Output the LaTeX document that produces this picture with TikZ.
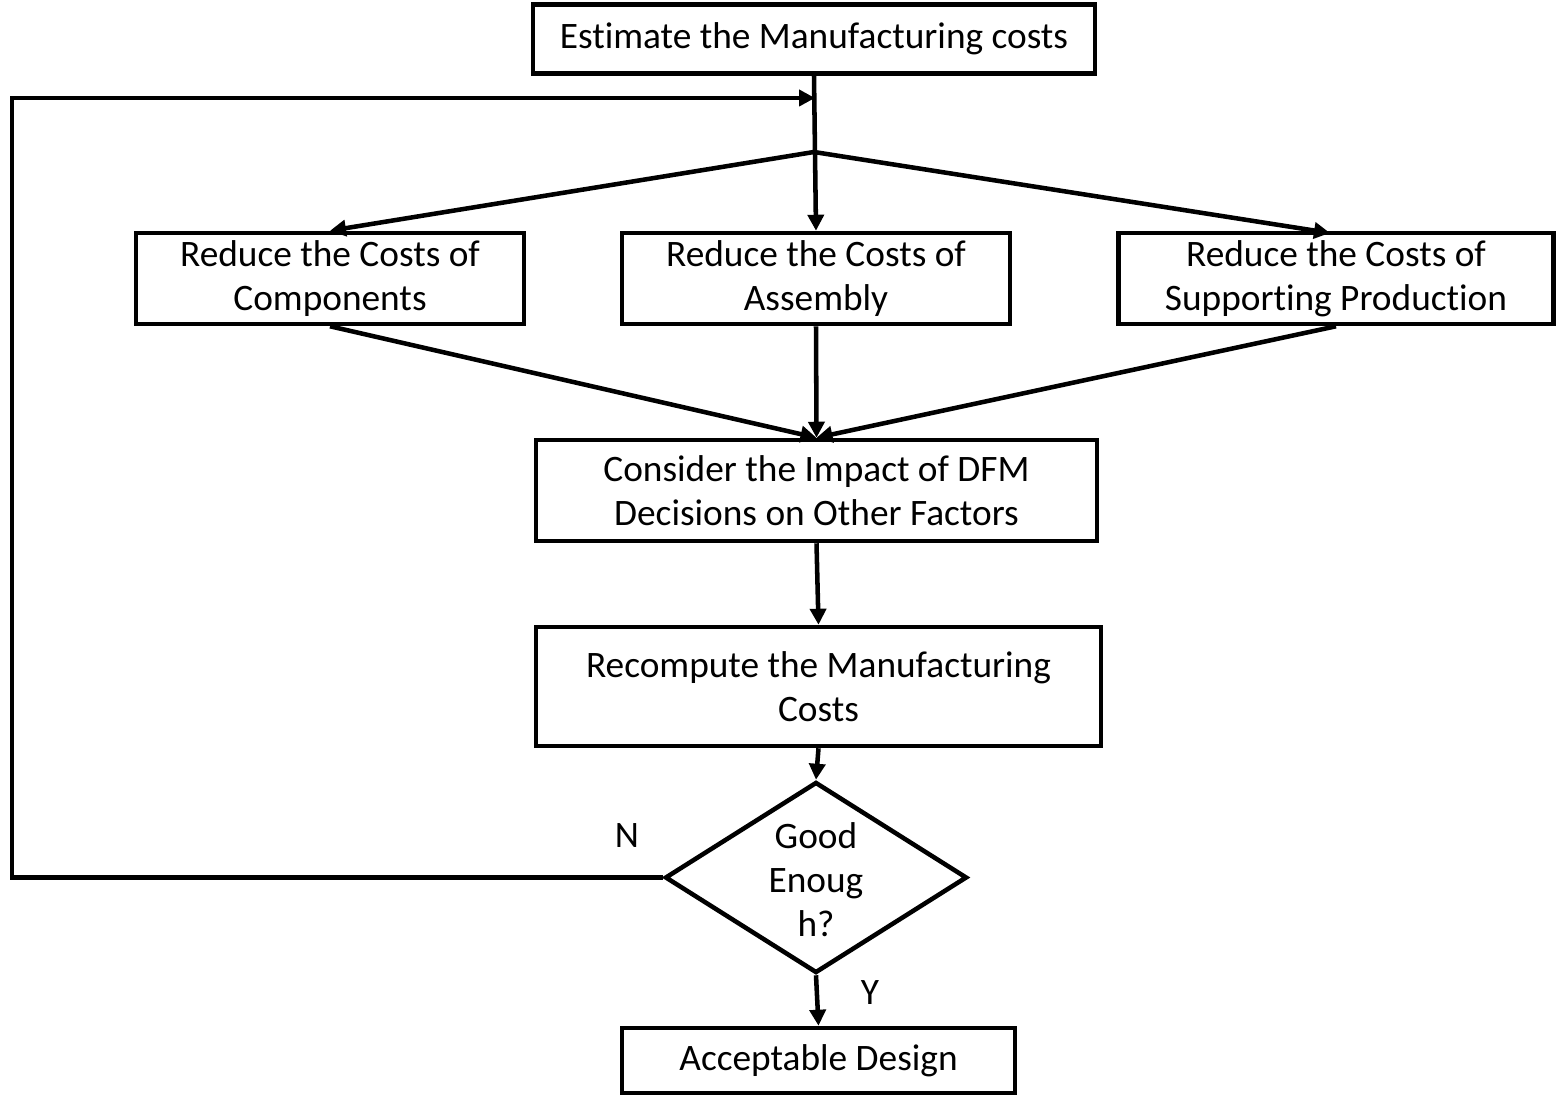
\documentclass[tikz,border=0pt]{standalone}
\usepackage{fontspec}
\setmainfont{Carlito}[Ligatures=NoCommon]
\usetikzlibrary{shapes.geometric,arrows.meta}
\begin{document}
\begin{tikzpicture}[x=0.75pt,y=-0.75pt,
  every node/.style={font=\fontsize{28pt}{33pt}\selectfont},
  box/.style={draw,line width=3.4pt,align=center,inner sep=0pt},
  arr/.style={line width=3.4pt,-{Triangle[length=12pt,width=12pt]}}]
\useasboundingbox (0,0) rectangle (1556,1095);
\node[box,minimum width=421.5pt,minimum height=51.75pt] (top) at (814,39) {Estimate the Manufacturing costs};
\node[box,minimum width=291pt,minimum height=68.25pt] (b1) at (330,278.5) {Reduce the Costs of\\Components};
\node[box,minimum width=291pt,minimum height=68.25pt] (b2) at (816,278.5) {Reduce the Costs of\\Assembly};
\node[box,minimum width=326pt,minimum height=68.25pt] (b3) at (1336,278.5) {Reduce the Costs of\\Supporting Production};
\node[box,minimum width=420.75pt,minimum height=75.75pt] (b4) at (816.5,490.5) {Consider the Impact of DFM\\Decisions on Other Factors};
\node[box,minimum width=423.75pt,minimum height=89.25pt] (b5) at (818.5,686.5) {Recompute the Manufacturing\\Costs};
\node[draw,diamond,line width=3.4pt,minimum width=226.5pt,minimum height=143.25pt,inner sep=0pt] (d) at (816,877.5) {};
\node[align=center] (dt) at (816,880) {Good\\Enoug\\h?};
\node[box,minimum width=294.75pt,minimum height=48.75pt] (acc) at (818.5,1060.5) {Acceptable Design};
\node (n) at (627,836) {N};
\node (y) at (870,993) {Y};
\coordinate (j1) at (814,152);
\coordinate (lc) at (12,98);
\coordinate (lp) at (815,98);
\draw[arr] (top.south) -- (b2.north);
\draw[arr] (j1) -- (b1.north);
\draw[arr] (j1) -- (1330,233);
\draw[arr] (d.west) -| (lc) -- (lp);
\draw[arr] (b1.south) -- (b4.north);
\draw[arr] (b2.south) -- (b4.north);
\draw[arr] (b3.south) -- (b4.north);
\draw[arr] (b4.south) -- (b5.north);
\draw[arr] (b5.south) -- (d.north);
\draw[arr] (d.south) -- (acc.north);
\end{tikzpicture}
\end{document}
